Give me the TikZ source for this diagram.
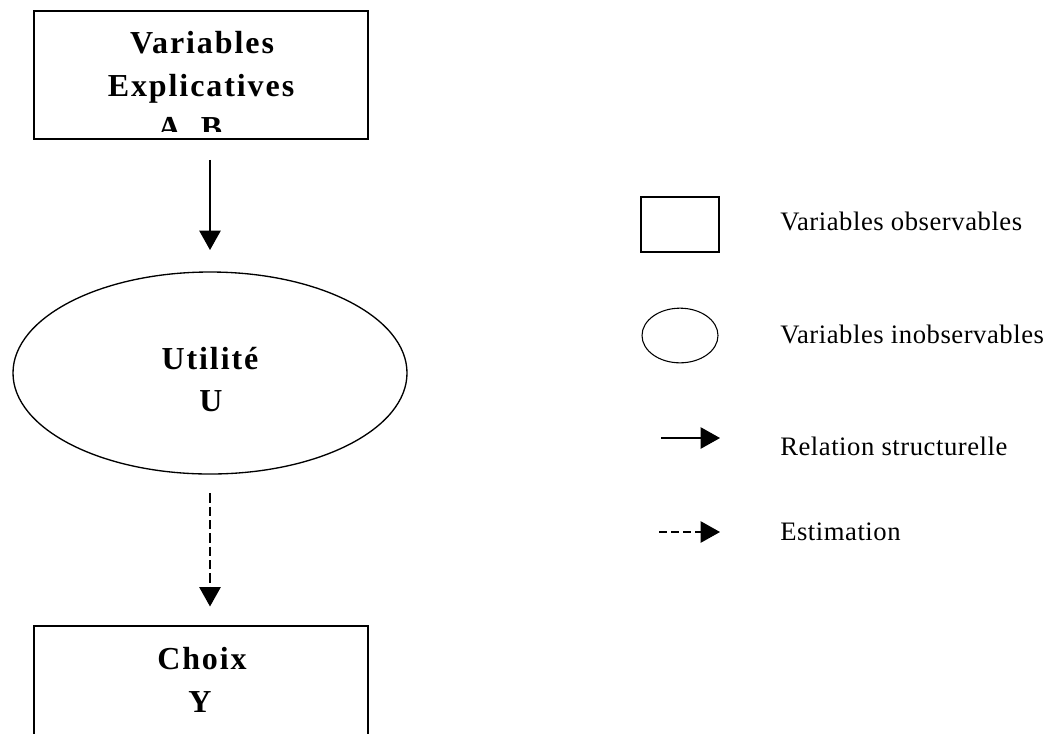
\documentclass[tikz,border=0pt]{standalone}
\usepackage{fontspec}
\setmainfont{Liberation Serif}
\newfontfamily\bigsp[LetterSpace=6]{Liberation Serif}
\newfontfamily\legsp[LetterSpace=2]{Liberation Serif}
\usetikzlibrary{arrows.meta,shapes.geometric}
\tikzset{
  boxshape/.style={draw, line width=1.3pt, minimum width=250.5pt, minimum height=96pt, inner sep=0pt},
  bigtxt/.style={font=\fontsize{24}{28}\bigsp\bfseries, anchor=base, inner sep=0pt},
  legtxt/.style={font=\fontsize{20}{24}\legsp, anchor=base west, inner sep=0pt},
  arr/.style={line width=1pt, -{Triangle[width=16pt,length=14.5pt]}},
  darr/.style={arr, dash pattern=on 7pt off 3pt},
}
\begin{document}
\begin{tikzpicture}[x=0.75pt,y=-0.75pt]
\clip (0,0) rectangle (1056,733);
\fill[white] (0,0) rectangle (1056,733);
% main column
\node[boxshape] (top) at (201,75) {};
\begin{scope}
  \clip (34,11) rectangle (368,131);
  \node[bigtxt] (t1) at (202,53) {Variables};
  \node[bigtxt] (t2) at (201,96) {Explicatives};
  \node[bigtxt] (t3) at (190,138) {A, B};
\end{scope}
\node[ellipse, draw, line width=1pt, minimum width=295.5pt, minimum height=151.5pt, inner sep=0pt] (ell) at (210,373) {};
\node[bigtxt] (u1) at (210,369) {Utilité};
\node[bigtxt] (u2) at (211,411) {U};
\node[boxshape, minimum height=120pt] (bot) at (201,706) {};
\node[bigtxt] (c1) at (202,669) {Choix};
\node[bigtxt] (c2) at (200,712) {Y};
\draw[arr, shorten <=15pt, shorten >=16pt] (top.south -| ell.north) -- (ell.north);
\draw[darr, shorten <=14pt, shorten >=14pt] (ell.south) -- (bot.north -| ell.south);
% legend
\node[draw, line width=1.1pt, minimum width=58.5pt, minimum height=41pt, inner sep=0pt] (lrect) at (680,224.5) {};
\node[legtxt] (lt1) at (780,230) {Variables observables};
\node[ellipse, draw, line width=0.8pt, minimum width=57pt, minimum height=41pt, inner sep=0pt] (lell) at (680,335.5) {};
\node[legtxt] (lt2) at (780,343) {Variables inobservables};
\coordinate (la1) at (661,438);
\coordinate (lb1) at (720,438);
\draw[arr] (la1) -- (lb1);
\node[legtxt] (lt3) at (780,455) {Relation structurelle};
\coordinate (la2) at (659,532);
\coordinate (lb2) at (720,532);
\draw[arr, dash pattern=on 6pt off 3pt] (la2) -- (lb2);
\node[legtxt] (lt4) at (780,540) {Estimation};
\end{tikzpicture}
\end{document}
